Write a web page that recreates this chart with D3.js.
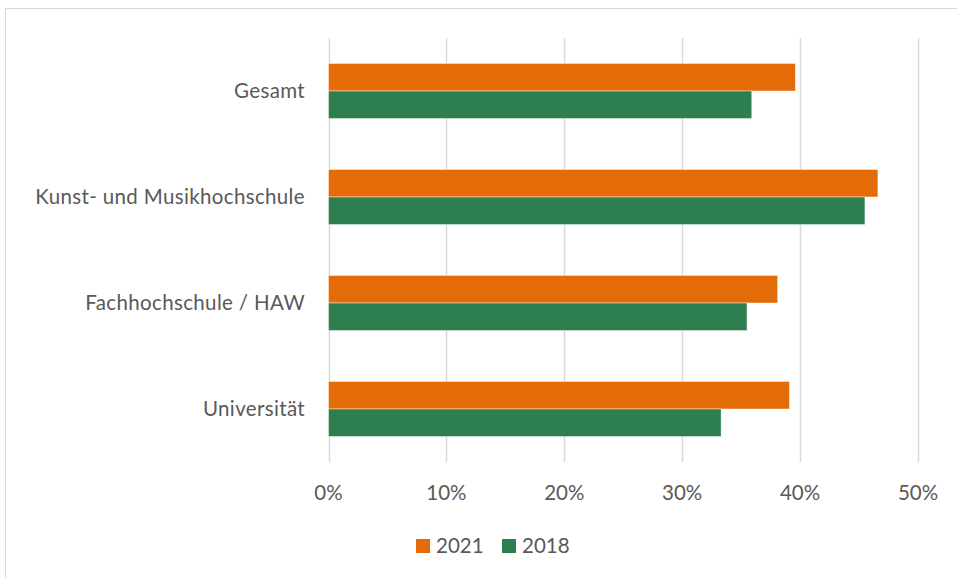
<!DOCTYPE html>
<html>
<head>
<meta charset="utf-8">
<script src="https://cdn.jsdelivr.net/npm/d3@7"></script>
<style>
  body { margin: 0; background: #fff; }
  text { font-family: Lato, "Open Sans", sans-serif; fill: #595959; }
</style>
</head>
<body>
<script>
/* Data */
var categories = ["Gesamt", "Kunst- und Musikhochschule", "Fachhochschule / HAW", "Universität"];
var series = ["2021", "2018"];
var values2021 = [0.396, 0.466, 0.381, 0.391];
var values2018 = [0.359, 0.455, 0.355, 0.333];
var tickValues = [0, 0.1, 0.2, 0.3, 0.4, 0.5];
var colors = ["#E36C09", "#2E7F4F"];

var WIDTH = 957, HEIGHT = 578;
var plotLeft = 328.5, plotRight = 918, plotTop = 38, plotBottom = 462;

var svg = d3.select("body").append("svg")
    .attr("width", WIDTH)
    .attr("height", HEIGHT);

// chart frame
svg.append("rect")
    .attr("x", 5.5).attr("y", 8.5)
    .attr("width", WIDTH).attr("height", HEIGHT)
    .attr("fill", "none").attr("stroke", "#d9d9d9");

var x = d3.scaleLinear().domain([0, 0.5]).range([plotLeft, plotRight]);
var y = d3.scaleBand().domain(categories).range([plotTop, plotBottom]).paddingInner(0.48).paddingOuter(0.24);
var ySub = d3.scaleBand().domain(series).range([0, y.bandwidth()]);

// gridlines
svg.append("g").selectAll("line")
    .data(tickValues)
    .join("line")
    .attr("x1", d => Math.round(x(d)) + 0.5).attr("x2", d => Math.round(x(d)) + 0.5)
    .attr("y1", plotTop).attr("y2", plotBottom)
    .attr("stroke", "#d9d9d9").attr("stroke-width", 1.5);

// x axis labels
svg.append("g").selectAll("text")
    .data(tickValues)
    .join("text")
    .attr("x", d => x(d))
    .attr("y", 493)
    .attr("dy", "0.35em")
    .attr("text-anchor", "middle")
    .attr("font-size", 20.5)
    .text(d => d3.format(".0%")(d));

// bars
var rows = categories.map((c, i) => ({cat: c, vals: [values2021[i], values2018[i]]}));
var groups = svg.append("g").selectAll("g")
    .data(rows)
    .join("g")
    .attr("transform", d => "translate(0," + y(d.cat) + ")");

groups.selectAll("rect")
    .data(d => d.vals.map((v, j) => ({key: series[j], v: v, j: j})))
    .join("rect")
    .attr("x", x(0))
    .attr("y", d => ySub(d.key))
    .attr("width", d => x(d.v) - x(0))
    .attr("height", ySub.bandwidth())
    .attr("fill", d => colors[d.j])
    .attr("stroke", "#fff")
    .attr("stroke-opacity", 0.6)
    .attr("stroke-width", 0.75);

// category labels
svg.append("g").selectAll("text")
    .data(categories)
    .join("text")
    .attr("x", 305)
    .attr("y", d => y(d) + y.bandwidth() / 2)
    .attr("dy", "0.35em")
    .attr("text-anchor", "end")
    .attr("font-size", 20.5)
    .attr("letter-spacing", 0.35)
    .text(d => d);

// legend
var legendX = [416, 502];
var legend = svg.append("g").selectAll("g")
    .data(series)
    .join("g")
    .attr("transform", (d, i) => "translate(" + legendX[i] + ",539)");
legend.append("rect")
    .attr("width", 14).attr("height", 14)
    .attr("fill", (d, i) => colors[i]);
legend.append("text")
    .attr("x", 20).attr("y", 7)
    .attr("dy", "0.35em")
    .attr("font-size", 20.5)
    .text(d => d);
</script>
</body>
</html>
